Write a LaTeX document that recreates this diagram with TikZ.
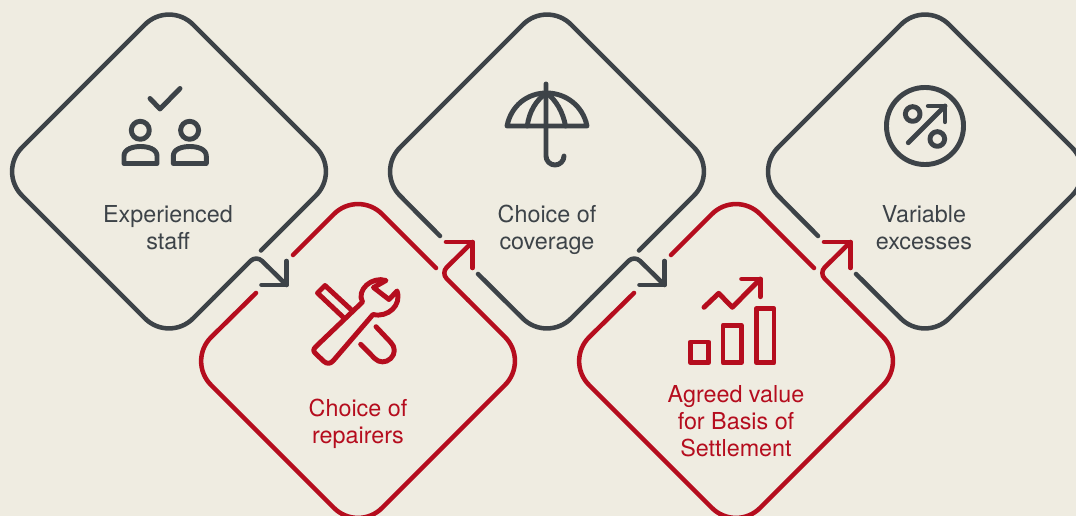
\documentclass[tikz,border=0pt]{standalone}
\usepackage{fontspec}
\setmainfont{TeX Gyre Heros}
\definecolor{bgc}{HTML}{EFECE1}
\definecolor{slatec}{HTML}{3D4348}
\definecolor{redc}{HTML}{B50D1E}
\tikzset{
  x=0.75pt,y=-0.75pt,
  stroke/.style={line width=3.4pt,line cap=round,line join=round},
  icon/.style={line width=3.7pt,line cap=round,line join=round},
  bigr/.style={stroke,rounded corners=25.5pt},
  smallr/.style={stroke,rounded corners=6pt},
  label/.style={align=center,font=\fontsize{17.5}{20.25}\selectfont}
}
\begin{document}
\begin{tikzpicture}
\useasboundingbox (0,0) rectangle (1076,516);
\fill[bgc] (0,0) rectangle (1076,516);
\clip (0,0) rectangle (1076,516);

% Upper diamonds
\begin{scope}[shift={(169,171.5)},slatec]
  \draw[bigr] (92,79) -- (171,0) -- (0,-171) -- (-171,0) -- (0,171) -- (45,126);
  \draw[smallr] (45,126) -- (87.25,83.75) -- (117.5,113.5);
  \draw[stroke] (117.5,89.5) -- (117.5,113.5) -- (92.5,113.5);
\end{scope}
\begin{scope}[shift={(547,171.5)},slatec]
  \draw[bigr] (92,79) -- (171,0) -- (0,-171) -- (-171,0) -- (-107,64.5);
  \draw[bigr] (-69,102.5) -- (0,171) -- (45,126);
  \draw[smallr] (45,126) -- (87.25,83.75) -- (117.5,113.5);
  \draw[stroke] (117.5,89.5) -- (117.5,113.5) -- (92.5,113.5);
\end{scope}
\begin{scope}[shift={(925,171.5)},slatec]
  \draw[bigr] (-107,64.5) -- (-171,0) -- (0,-171) -- (171,0) -- (0,171) -- (-69,102.5);
\end{scope}

% Lower diamonds
\foreach \cx in {358,736}{
 \begin{scope}[shift={(\cx,361)},redc]
  \draw[bigr] (-65,-106) -- (0,-171) -- (78,-93);
  \draw[bigr] (-102,-68) -- (-171,0) -- (0,171) -- (171,0) -- (110,-61);
  \draw[smallr] (110,-61) -- (83,-88) -- (114.5,-119);
  \draw[stroke] (88,-119) -- (114.5,-119) -- (114.5,-93);
 \end{scope}
}

% Persons icon
\draw[icon,slatec] (150,98.5) -- (160,109) -- (180,88.5);
\foreach \dx in {0,49.3}{
 \begin{scope}[xshift=\dx*0.75pt,slatec]
  \draw[icon] (140.3,130.3) circle[radius=6.75pt];
  \draw[icon] (124,163.5) -- (124,156) .. controls (124,149) and (133,146.5) .. (140.5,146.5) .. controls (148,146.5) and (157,149) .. (157,156) -- (157,163.5) -- cycle;
 \end{scope}
}

% Umbrella
\draw[icon,slatec] (546,84) -- (546,156) arc[start angle=180,end angle=360,radius=6.75pt];
\draw[icon,slatec] (507,126) .. controls (511,106) and (527,93) .. (546.5,93) .. controls (566,93) and (583,106) .. (587,126) -- cycle;
\draw[icon,slatec] (527.3,126) .. controls (529,112) and (536,100) .. (546.5,93) .. controls (556,100) and (563,112) .. (565.5,126);

% Percent
\draw[icon,slatec] (925,126) circle[radius=28.9pt];
\draw[icon,slatec] (912.7,114) circle[radius=5.5pt];
\draw[icon,slatec] (937.3,139) circle[radius=5.5pt];
\draw[icon,slatec] (908.3,142.7) -- (945,106);
\draw[icon,slatec] (928.3,106) -- (945,106) -- (945,121.7);

% Wrench
\begin{scope}[redc]
 \draw[icon] (351.5,310) -- (325,285.5) -- (317.5,293) -- (344,318);
 \draw[icon] (376,326.7) -- (390.7,342.3) .. controls (395.5,347) and (395.5,354) .. (390.7,358.5) .. controls (386,363) and (379,363) .. (374.7,358.5) -- (360.7,344.3);
 \draw[icon] (386,280.5) .. controls (372,276) and (356,290) .. (362.5,302) -- (316,346.5) .. controls (313,349.5) and (313,351) .. (316,354) -- (324,361.5) .. controls (327,364) and (330,364) .. (333,361) -- (373,314.5) .. controls (388,318) and (402,305) .. (397,291) -- (389,299.5) -- (373.5,287.5) -- cycle;
\end{scope}

% Chart
\begin{scope}[redc]
 \draw[icon] (690.3,342) rectangle (708.7,362.7);
 \draw[icon] (723,325.3) rectangle (741.3,362.7);
 \draw[icon] (756.3,308.7) rectangle (774,362.7);
 \draw[icon] (704,307.3) -- (718.7,293.3) -- (732.3,307.3) -- (760.3,279);
 \draw[icon] (741.7,279) -- (760.3,279) -- (760.3,296.7);
\end{scope}

% Labels
\node[label,slatec] (t1) at (168,231) {\strut Experienced\\\strut staff};
\node[label,redc] (t2) at (358,425) {\strut Choice of\\\strut repairers};
\node[label,slatec] (t3) at (547,231) {\strut Choice of\\\strut coverage};
\node[label,redc] (t4) at (736,424.6) {\strut Agreed value\\\strut for Basis of\\\strut Settlement};
\node[label,slatec] (t5) at (924,231) {\strut Variable\\\strut excesses};
\end{tikzpicture}
\end{document}
